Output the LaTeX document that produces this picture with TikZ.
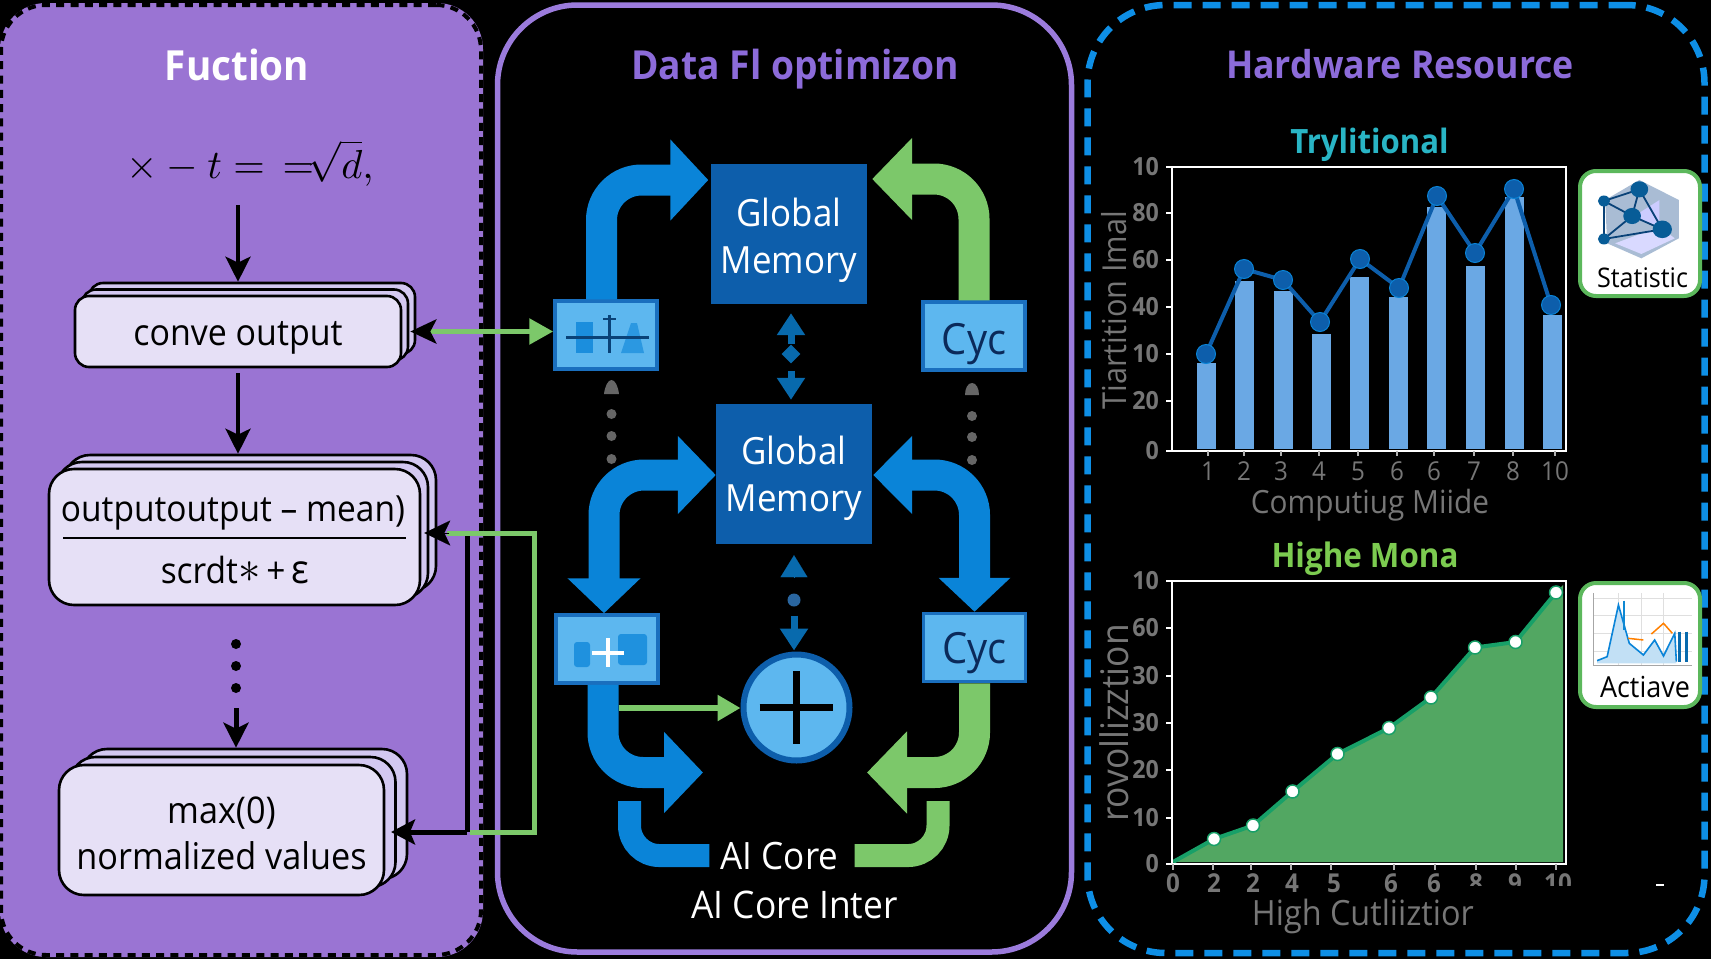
\documentclass[tikz,border=0pt]{standalone}
\usepackage{fontspec}
\usepackage{graphicx}
\setmainfont[FakeStretch=0.93]{Open Sans}
\usetikzlibrary{arrows.meta,shadows,shapes.geometric,calc}
\definecolor{pfill}{HTML}{9A74D3}
\definecolor{ptitle}{HTML}{8C6BD9}
\definecolor{pline}{HTML}{9B7BDC}
\definecolor{blu}{HTML}{0A84D8}
\definecolor{dblu}{HTML}{0D5EAB}
\definecolor{gblu}{HTML}{0E8FE6}
\definecolor{lblu}{HTML}{5DB7EF}
\definecolor{bblu}{HTML}{1A6FBE}
\definecolor{grn}{HTML}{7CC86A}
\definecolor{cardg}{HTML}{5CB85C}
\definecolor{stfront}{HTML}{E6E0F6}
\definecolor{stback}{HTML}{D3C8F1}
\definecolor{grytx}{HTML}{767676}
\definecolor{barc}{HTML}{6AA8E4}
\definecolor{areac}{HTML}{52A762}
\definecolor{linec}{HTML}{18A068}
\definecolor{navy}{HTML}{0B2A5A}
\definecolor{tealt}{HTML}{29B5C5}
\definecolor{greent}{HTML}{7CCB50}
\definecolor{hexc}{HTML}{A9BCD4}
\definecolor{dotg}{HTML}{666666}
\newcommand{\fs}[2]{\fontsize{#1}{#2}\selectfont}
\newcommand{\lowered}[2]{\raisebox{-#1pt}[\height][\depth]{\begin{tabular}{@{}c@{}}#2\end{tabular}}}
\newcommand{\lowone}[2]{\raisebox{-#1pt}[\height][\depth]{#2}}
\tikzset{
 x=1pt,y=-1pt,
 txt/.style={inner sep=0pt,anchor=base},
 stackbox/.style={draw=black,line width=2.6pt,fill=stfront,align=center,inner sep=0pt,text=black},
 blk/.style={line width=4pt,draw=black,-{Stealth[length=25pt,width=25pt,inset=6pt]}},
 gmbox/.style={fill=dblu,text=white,minimum width=156pt,minimum height=140pt,inner sep=0pt,align=center,font=\fs{37.5}{47}},
 lbox/.style={fill=lblu,draw=bblu,line width=3.5pt,minimum width=102pt,minimum height=68pt,inner sep=0pt,text=navy,font=\fs{43}{48}},
 bigb/.style={line width=31pt,draw=blu,rounded corners=40pt},
 bigg/.style={line width=31pt,draw=grn,rounded corners=40pt},
 midarr/.style={line width=7pt,draw=#1,-{Triangle[length=22pt,width=27pt]}},
 gdot/.style={circle,fill=#1,minimum size=10pt,inner sep=0pt},
 ytl/.style={inner sep=0pt,anchor=east,text=grytx,font=\bfseries\fs{25}{28}},
 xtl/.style={inner sep=0pt,anchor=center,text=grytx,font=\fs{26}{28}},
 axt/.style={inner sep=0pt,text=grytx},
 card/.style={draw=cardg,line width=4pt,fill=white,rounded corners=16pt,minimum width=120pt,inner sep=0pt},
}
\begin{document}
\begin{tikzpicture}
\useasboundingbox (0,0) rectangle (1711,959);
\fill[black] (0,0) rectangle (1711,959);

% ---------- panels
\node[fill=pfill,rounded corners=46pt,minimum width=483pt,minimum height=954pt,inner sep=0pt] (fnb) at (241.5,480) {};
\node[draw=black,line width=4pt,dash pattern=on 8pt off 6.3pt,rounded corners=45pt,minimum width=480pt,minimum height=950pt,inner sep=0pt] (fn) at (241,480) {};
\node[draw=pline,line width=5.5pt,rounded corners=80pt,minimum width=574pt,minimum height=947pt,inner sep=0pt] (df) at (784.5,478.5) {};
\node[draw=gblu,line width=6.5pt,dash pattern=on 18pt off 11pt,rounded corners=78pt,minimum width=617pt,minimum height=948pt,inner sep=0pt] (hw) at (1396,479) {};

% ---------- titles
\node[txt,text=white,font=\bfseries\fs{41.5}{48}] (t1) at (237,80) {Fuction};
\node[txt,text=ptitle,font=\bfseries\fs{40}{46}] (t2) at (795,79) {Data Fl optimizon};
\node[txt,text=ptitle,font=\bfseries\fs{38.4}{44}] (t3) at (1400,78) {Hardware Resource};

% ---------- left column
\node[inner sep=0pt,text=black,anchor=base] (form) at (250,178) {\scalebox{4.05}{$\times - t = \,{=}\!\sqrt{d},$}};
\node[stackbox,rounded corners=14pt,minimum width=326pt,minimum height=71pt,font=\fs{36.5}{40},
  double copy shadow={shadow xshift=7pt,shadow yshift=6.5pt,fill=stback,draw=black,line width=2.6pt}] (conv) at (238,331.5) {\lowone{6.5}{conve output}};
\node[stackbox,rounded corners=25pt,minimum width=371pt,minimum height=136pt,
  double copy shadow={shadow xshift=8pt,shadow yshift=7pt,fill=stback,draw=black,line width=2.6pt}] (norm) at (234.5,537) {};
\node[txt,text=black,font=\fs{36}{40}] (fa) at (233,521) {outputoutput – mean)};
\node[txt,text=black,font=\fs{36}{40}] (fb) at (235,583) {scrdt\raisebox{1pt}{\scalebox{1.8}{$\ast$}}\,+\,{\fs{40}{40}ε}};
\draw[line width=2.6pt] (63,538) coordinate (fr1) -- (406,538) coordinate (fr2);
\node[gdot=black] (d1) at (236,644) {};
\node[gdot=black] (d2) at (236,666) {};
\node[gdot=black] (d3) at (236,688) {};
\node[stackbox,rounded corners=25pt,minimum width=325pt,minimum height=130pt,font=\fs{36.8}{46},
  double copy shadow={shadow xshift=11.5pt,shadow yshift=8pt,fill=stback,draw=black,line width=2.6pt}] (maxb) at (221.5,830) {\lowered{7}{max(0)\\normalized values}};

\draw[blk] (conv.north |- 0,205) -- ([yshift=13pt]conv.north);
\draw[blk] ([yshift=-5pt]conv.south) -- ([xshift=3.5pt,yshift=14pt]norm.north);
\draw[blk,line width=5pt] ([yshift=-20pt]d3.center) -- ([xshift=14.5pt,yshift=16pt]maxb.north);

% ---------- memory
\node[gmbox] (gm1) at (789,234) {\lowered{6.5}{Global\\Memory}};
\node[gmbox] (gm2) at (794,474) {\lowered{5}{Global\\Memory}};

% ---------- small boxes
\node[lbox] (eta) at (606,335) {};
\node[lbox] (cyc1) at (974,336) {\lowone{8}{Cyc}};
\node[lbox] (cpl) at (607,649) {};
\node[lbox] (cyc2) at (974.5,647.5) {\lowone{6}{Cyc}};
\node[circle,draw=dblu,fill=lblu,line width=6pt,minimum size=106pt,inner sep=0pt] (plus) at (796.5,707.5) {};
\draw[line width=7pt,black] (759.5,707.5) -- (833,707.5);
\draw[line width=7pt,black] (796,671) -- (796,744);

% pictogram in first box
\fill[blu!80!lblu] (576,322) rectangle (593,353);
\fill[blu!60!lblu] (621,353) -- (631,323) -- (637,323) -- (644,353) -- cycle;
\draw[line width=3pt,dblu!70!black] (566,337) -- (649,337);
\draw[line width=3pt,dblu!70!black] (609,315) -- (609,353);
\draw[line width=2.5pt,dblu!70!black] (603,319) -- (616,319);
% pictogram in second box
\fill[blu!75!lblu,rounded corners=3pt] (574,642) rectangle (590,667);
\fill[blu!75!lblu,rounded corners=3pt] (618,634) rectangle (647,665);
\draw[line width=4pt,white] (592,652.5) -- (624,652.5);
\draw[line width=4pt,white] (608,638) -- (608,667);

% ---------- big arrows
\draw[bigb,-{Triangle[length=38pt,width=79pt]}] ([xshift=-4.5pt]eta.north) |- ([xshift=-2.5pt,yshift=54pt]gm1.west);
\draw[bigg,-{Triangle[length=40pt,width=80pt]}] (cyc1.north) |- ([xshift=5pt,yshift=55pt]gm1.east);
\draw[bigb,{Triangle[length=38pt,width=76pt]}-{Triangle[length=35pt,width=71pt]}] ([yshift=-1pt]gm2.west) -| ([xshift=-3pt]cpl.north);
\draw[bigb,{Triangle[length=39pt,width=76pt]}-{Triangle[length=34pt,width=70pt]}] ([xshift=1pt,yshift=-1pt]gm2.east) -| (cyc2.north);
\draw[bigb,-{Triangle[length=39pt,width=79pt]}] ([xshift=-4pt]cpl.south) |- ([xshift=-93.5pt,yshift=-9pt]plus.south);
\draw[bigg,-{Triangle[length=40pt,width=80pt]}] (cyc2.south) |- ([xshift=70.5pt,yshift=-9pt]plus.south);

% ---------- text at the bottom
\node[txt,text=white,font=\fs{37.7}{42}] (aic) at (779.5,869) {AI Core};
\node[txt,text=white,font=\fs{38}{42}] (aii) at (794.5,918) {AI Core Inter};
\coordinate (bbs) at (629.5,801);
\coordinate (gbs) at (938,801);
\draw[line width=23pt,draw=blu,rounded corners=30pt] (bbs) |- ([xshift=-11pt,yshift=0pt]aic.west);
\draw[line width=23pt,draw=grn,rounded corners=30pt] (gbs) |- ([xshift=16pt,yshift=0pt]aic.east);

% ---------- small arrows in middle column
\node[diamond,fill=blu!80!black,minimum size=19pt,inner sep=0pt] (md1) at (791,354) {};
\draw[midarr=blu!80!black,shorten >=9pt] (md1.north) -- (md1.north |- gm1.south);
\draw[midarr=blu!80!black,shorten >=4pt] ([yshift=-7pt]md1.south) -- (md1.south |- gm2.north);
\node[circle,fill=dblu!75!gray,minimum size=13pt,inner sep=0pt] (md2) at (794,600) {};
\draw[midarr=blu!80!black,shorten >=11pt,line width=0.1pt] ([yshift=23pt]md2.center) -- (md2.center |- gm2.south);
\draw[midarr=blu!80!black,shorten >=1pt] ([yshift=-9pt]md2.south) -- (md2.south |- plus.north);
\coordinate (gst) at (618.5,708);
\draw[line width=5.5pt,grn,-{Triangle[length=23pt,width=25pt]}] (gst) -- (plus.west |- gst);

% grey dots
\node[gdot=dotg] (g1) at (611.5,414) {};
\node[gdot=dotg] (g2) at (611.5,436) {};
\node[gdot=dotg] (g3) at (611.5,459) {};
\node[gdot=dotg] (g4) at (972,416) {};
\node[gdot=dotg] (g5) at (972,437) {};
\node[gdot=dotg] (g6) at (972,460) {};
\fill[dotg] (604,394) .. controls (605,386) and (608,380) .. (611.5,380) .. controls (615,380) and (618,386) .. (619,394) -- cycle;
\fill[dotg] (965,395) .. controls (965,388) and (968,383) .. (972,383) .. controls (976,383) and (979,388) .. (979,395) -- cycle;

% ---------- cross-panel connectors
\draw[line width=5pt,black] (467,533) coordinate (bk0) -- (467,832);
\draw[line width=5pt,black,-{Stealth[length=24pt,width=25pt,inset=5pt]}] (467,832) -- (391,832);
\draw[line width=5.5pt,grn,{Stealth[black,length=26pt,width=24pt,inset=6pt]}-{Triangle[length=24pt,width=25pt]}] ([xshift=8pt]conv.east) -- (eta.west |- conv.east);
\draw[line width=5pt,grn] (447,533) -- (534,533) -- (534,832) -- (470,832);
\draw[line width=0.1pt,black,-{Stealth[length=26pt,width=25pt,inset=6pt]}] (449,533) -- ([xshift=3pt]norm.east |- 0,533);

% ---------- chart 1
\node[txt,text=tealt,font=\bfseries\fs{33.5}{38}] (c1t) at (1369.5,153) {Trylitional};
\foreach \xx/\tt in {1206/363,1244.6/281,1283/291,1321/334,1359.7/277,1398/297,1436.5/207,1475/266,1514/197,1552.4/315}
  \fill[barc] ({\xx-9.5},\tt) rectangle ({\xx+9.5},449);
\draw[line width=4pt,dblu] plot coordinates {(1206,354) (1244,269) (1283,280) (1320,322) (1360,259) (1399,288) (1437,196) (1475,253) (1514,189) (1551,305)};
\foreach \xx/\yy in {1206/354,1244/269,1283/280,1320/322,1360/259,1399/288,1437/196,1475/253,1514/189,1551/305}
  \fill[dblu,draw=blu,line width=1pt] (\xx,\yy) circle[radius=9.5pt];
\draw[white,line width=2.5pt] (1172,167) rectangle (1566,451);
\foreach \yy/\ll in {167/10,213/80,260/60,307/40,354/10,401/20,451/0}{
  \draw[white,line width=2pt] (1166,\yy) -- (1172,\yy);
  \node[ytl] at (1159,\yy) {\ll};
}
\foreach \xx/\ll in {1208/1,1244/2,1281/3,1319/4,1358/5,1397/6,1434/6,1474/7,1513/8,1555/10}{
  \node[xtl] at (\xx,471) {\ll};
  \draw[white!70!black,line width=1.5pt] (\xx,451) -- (\xx,456);
}
\node[axt,rotate=90,font=\fs{33}{40}] (c1y) at (1114,310) {Tiartition Imal};
\node[txt,text=grytx,font=\fs{32}{40}] (c1x) at (1370,513) {Computiug Miide};

% ---------- chart 2
\node[txt,text=greent,font=\bfseries\fs{33.7}{40}] (c2t) at (1365,567) {Highe Mona};
\fill[areac] (1173,862) -- (1214,839) -- (1253,825.5) -- (1292.5,791.5) -- (1337.5,754) -- (1389,728) -- (1431,697.5) -- (1475,647.5) -- (1515.5,642) -- (1556,592.5) -- (1563,585) -- (1563,862) -- cycle;
\draw[linec,line width=4pt] plot coordinates {(1173,862) (1214,839) (1253,825.5) (1292.5,791.5) (1337.5,754) (1389,728) (1431,697.5) (1475,647.5) (1515.5,642) (1556,592.5)};
\foreach \xx/\yy in {1214/839,1253/825.5,1292.5/791.5,1337.5/754,1389/728,1431/697.5,1475/647.5,1515.5/642,1556/592.5}
  \fill[white,draw=linec,line width=1.5pt] (\xx,\yy) circle[radius=6.5pt];
\draw[white,line width=2.5pt] (1172,581) rectangle (1566,864);
\foreach \yy/\ll in {581/10,628/60,676/30,723/30,770/20,818/10,864/0}{
  \draw[white,line width=2pt] (1166,\yy) -- (1172,\yy);
  \node[ytl] at (1159,\yy) {\ll};
}
\foreach \xx/\ll in {1173/0,1214/2,1253/2,1292/4,1334/5,1391/6,1434/6}
  \node[xtl,font=\bfseries\fs{26}{28}] at (\xx,883) {\ll};
\begin{scope}
 \clip (1460,860) rectangle (1570,885);
 \foreach \xx/\ll in {1476/8,1515/9,1558/10}
  \node[xtl,font=\bfseries\fs{26}{28}] at (\xx,883) {\ll};
\end{scope}
\foreach \xx in {1173,1213,1251,1291,1331,1394,1435,1476,1516,1556}
  \draw[white!70!black,line width=2pt] (\xx,864) -- (\xx,870);
\draw[white,line width=1.2pt] (1656,885) -- (1664,885);
\node[axt,rotate=90,font=\fs{38}{44}] (c2y) at (1114,723) {rovollizztion};
\node[txt,text=grytx,font=\fs{34.8}{40},anchor=base east] (c2x) at (1474,925) {High Cutliiztior};

% ---------- cards
\node[card,minimum height=125pt] (cs) at (1640,233.5) {};
\node[txt,text=black,font=\fs{27}{32}] (cst) at (1642.5,287) {Statistic};
\begin{scope}[shift={(1080,100)},x=0.4024pt,y=-0.3333pt]
 \fill[hexc] (1390,240) -- (1488,300) -- (1488,415) -- (1395,475) -- (1310,430) -- (1305,300) -- cycle;
 \fill[white!85!blue] (1330,430) -- (1440,380) -- (1478,415) -- (1395,462) -- cycle;
 \fill[white!80!blue] (1375,350) -- (1440,300) -- (1440,380) -- cycle;
 \draw[dblu!70!black,line width=1.8pt] (1302,303) -- (1390,268) -- (1372,348) -- (1302,303) -- (1302,417) -- (1372,348) -- (1447,388) -- (1302,417) (1390,268) -- (1447,388);
 \foreach \px/\py/\r in {1302/303/15,1390/268/22,1372/348/22,1447/388/24,1302/417/15}
  \fill[blu!70!black] (\px,\py) ellipse[x radius=\r,y radius=\r*1.1];
\end{scope}
\node[card,minimum height=124pt] (ca) at (1640,645) {};
\node[txt,text=black,font=\fs{29}{32}] (cat) at (1645,697) {Actiave};
\begin{scope}[shift={(1080,530)},x=0.4024pt,y=-0.3333pt]
 \draw[gray!25,line width=0.6pt] (1275,205) -- (1520,205) (1275,255) -- (1520,255) (1275,310) -- (1520,310) (1275,365) -- (1520,365);
 \draw[gray!25,line width=0.6pt] (1338,190) -- (1338,405) (1395,190) -- (1395,405) (1450,190) -- (1450,405);
 \draw[gray!70,line width=0.8pt] (1275,405) -- (1520,405) (1275,190) -- (1275,405);
 \fill[blu!25] (1285,392) -- (1310,380) -- (1338,225) -- (1365,340) -- (1400,375) -- (1428,330) -- (1450,378) -- (1478,310) -- (1482,400) -- (1285,400) -- cycle;
 \draw[blu,line width=1.6pt] (1285,392) -- (1310,380) -- (1338,225) -- (1365,340) -- (1400,375) -- (1428,330) -- (1450,378) -- (1478,310) -- (1482,395);
 \draw[cyan!70!blue,line width=2pt] (1352,212) -- (1352,300);
 \draw[orange,line width=1.5pt] (1362,325) -- (1400,330) (1420,312) -- (1450,280) -- (1472,310);
 \draw[blu!80!black,line width=3pt] (1490,305) -- (1490,395) (1506,305) -- (1506,395);
\end{scope}
\end{tikzpicture}
\end{document}
